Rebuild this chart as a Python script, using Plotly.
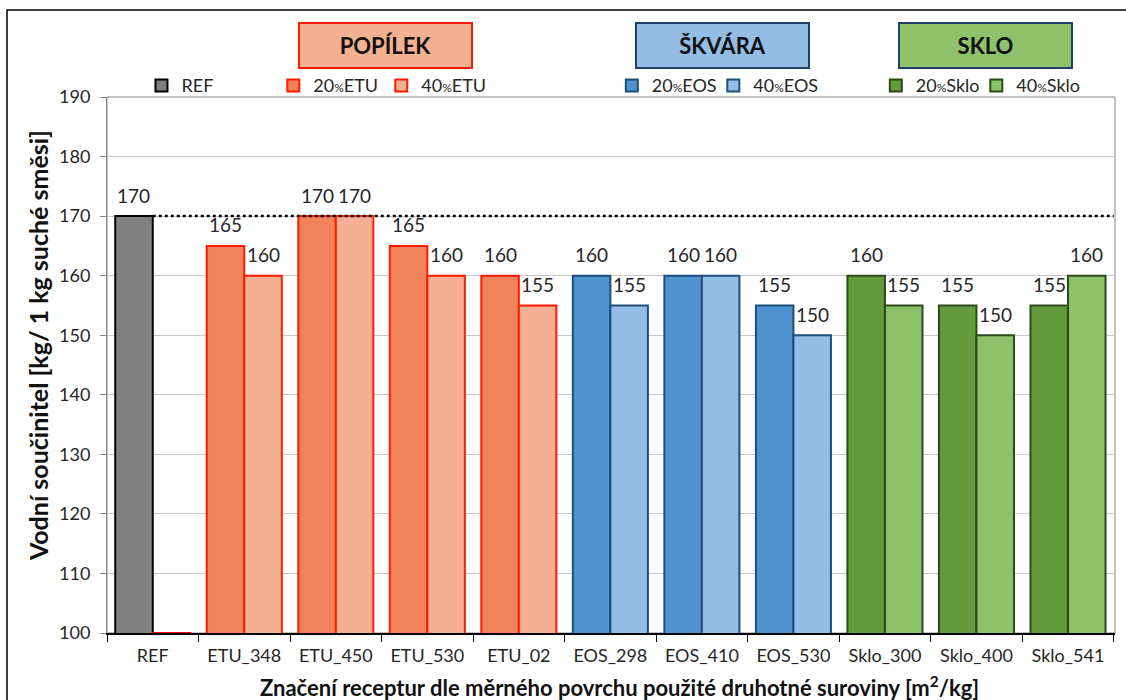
import plotly.graph_objects as go

# Recipes on the category axis
categories = ["REF", "ETU_348", "ETU_450", "ETU_530", "ETU_02",
              "EOS_298", "EOS_410", "EOS_530",
              "Sklo_300", "Sklo_400", "Sklo_541"]

# Water coefficient [kg / 1 kg dry mix]
ref_cats = ["REF"]
ref_values = [170]
ref_second = [100]          # empty second slot of the reference group

etu_cats = ["ETU_348", "ETU_450", "ETU_530", "ETU_02"]
etu_20 = [165, 170, 165, 160]
etu_40 = [160, 170, 160, 155]

eos_cats = ["EOS_298", "EOS_410", "EOS_530"]
eos_20 = [160, 160, 155]
eos_40 = [155, 160, 150]

sklo_cats = ["Sklo_300", "Sklo_400", "Sklo_541"]
sklo_20 = [160, 155, 155]
sklo_40 = [155, 150, 160]

y_ticks = [100, 110, 120, 130, 140, 150, 160, 170, 180, 190]

FONT = "Lato"
TXT = "#262626"
PCT = "<span style='font-size:12px'>%</span>"
BARGAP = 0.18
CAT_PX = 1008 / len(categories)
HALF_BAR = CAT_PX * (1 - BARGAP) / 4      # offset of each slot's centre

# legend positions (paper x) of the individual legend entries
legend_x = {"legend": 0.0342, "legend2": 0.1650, "legend3": 0.2721,
            "legend4": 0.5008, "legend5": 0.6015,
            "legend6": 0.7627, "legend7": 0.8624}

fig = go.Figure()
value_labels = []


def add_bars(name, cats, vals, fill, edge, slot, legend, show=True, label=True):
    fig.add_trace(go.Bar(
        name=name, x=cats, y=vals, offsetgroup=slot, legend=legend,
        showlegend=show,
        marker=dict(color=fill, line=dict(color=edge, width=2)),
        hoverinfo="x+y",
    ))
    if label:
        for c, v in zip(cats, vals):
            value_labels.append(dict(
                x=c, y=v, xref="x", yref="y", text=str(v), showarrow=False,
                xshift=-HALF_BAR if slot == "a" else HALF_BAR, yshift=21,
                xanchor="center", yanchor="middle",
                font=dict(family=FONT, size=19, color=TXT)))


add_bars("REF", ref_cats, ref_values, "#808080", "#000000", "a", "legend")
add_bars("REF 2", ref_cats, ref_second, "rgba(0,0,0,0)", "#FF0000", "b",
         "legend", show=False, label=False)
add_bars("20" + PCT + "ETU", etu_cats, etu_20, "#F08359", "#FF1A00", "a", "legend2")
add_bars("40" + PCT + "ETU", etu_cats, etu_40, "#F4B092", "#FF1A00", "b", "legend3")
add_bars("20" + PCT + "EOS", eos_cats, eos_20, "#4E93D0", "#1F4E79", "a", "legend4")
add_bars("40" + PCT + "EOS", eos_cats, eos_40, "#93BDE5", "#1F4E79", "b", "legend5")
add_bars("20" + PCT + "Sklo", sklo_cats, sklo_20, "#629A3C", "#2C4A1A", "a", "legend6")
add_bars("40" + PCT + "Sklo", sklo_cats, sklo_40, "#8DC16A", "#2C4A1A", "b", "legend7")

legend_style = dict(orientation="h", xanchor="left", yanchor="middle", y=1.021,
                    bgcolor="rgba(0,0,0,0)", borderwidth=0,
                    font=dict(family=FONT, size=18, color=TXT),
                    itemclick=False, itemdoubleclick=False)
legends = {k: dict(x=v, **legend_style) for k, v in legend_x.items()}

box_font = dict(family=FONT, size=22, color="#111111")
group_boxes = [
    dict(text="<b>POPÍLEK</b>", x=0.2758, bgcolor="#F4B092", bordercolor="#FF1A00"),
    dict(text="<b>ŠKVÁRA</b>", x=0.6111, bgcolor="#93BDE5", bordercolor="#1F3F66"),
    dict(text="<b>SKLO</b>", x=0.8715, bgcolor="#8DC16A", bordercolor="#1F3F66"),
]
for b in group_boxes:
    b.update(xref="paper", yref="paper", y=1.0966, xanchor="center",
             yanchor="middle", showarrow=False, width=171, height=43,
             borderwidth=2, borderpad=0, font=box_font)

fig.update_layout(
    width=1126, height=700,
    margin=dict(l=107, r=11, t=97, b=67),
    paper_bgcolor="white", plot_bgcolor="white",
    barmode="group", bargap=BARGAP, bargroupgap=0,
    font=dict(family=FONT, color=TXT),
    **legends,
    xaxis=dict(
        type="category", categoryorder="array", categoryarray=categories,
        showline=True, linecolor="#000000", linewidth=2,
        ticks="outside", tickson="boundaries", ticklen=7, tickcolor="#000000",
        tickfont=dict(family=FONT, size=18, color=TXT), ticklabelstandoff=5,
        layer="below traces", showgrid=False,
    ),
    yaxis=dict(
        range=[100, 190], tickvals=y_ticks,
        showline=True, linecolor="#868686", linewidth=1,
        ticks="outside", ticklen=6, tickcolor="#868686",
        showgrid=True, gridcolor="#C8C8C8", gridwidth=1,
        tickfont=dict(family=FONT, size=18, color=TXT), ticklabelstandoff=6,
        zeroline=False,
    ),
    shapes=[
        # plot frame
        dict(type="rect", xref="paper", yref="paper", x0=0, x1=1, y0=0, y1=1,
             line=dict(color="#868686", width=1), layer="below"),
        # outer chart border
        dict(type="rect", xref="paper", yref="paper",
             x0=-0.0992, x1=1.04, y0=-0.14, y1=1.1623,
             line=dict(color="#000000", width=1.5)),
        # reference level
        dict(type="line", xref="x", yref="y", x0=0, x1=len(categories) - 0.5,
             y0=ref_values[0], y1=ref_values[0],
             line=dict(color="#000000", width=2.5, dash="dot"), layer="above"),
    ],
    annotations=value_labels + group_boxes + [
        dict(text="<b>Vodní součinitel [kg/ 1 kg suché směsi]</b>",
             xref="paper", yref="paper", x=-0.0685, y=0.537, textangle=-90,
             xanchor="center", yanchor="middle",
             showarrow=False, font=dict(family=FONT, size=25, color="#111111")),
        dict(text="<b>Značení receptur dle měrného povrchu použité druhotné suroviny [m<sup>2</sup>/kg]</b>",
             xref="paper", yref="paper", x=0.508, y=-0.0989,
             xanchor="center", yanchor="middle", showarrow=False,
             font=dict(family=FONT, size=22, color="#111111")),
    ],
)

fig.write_html("out.html")
